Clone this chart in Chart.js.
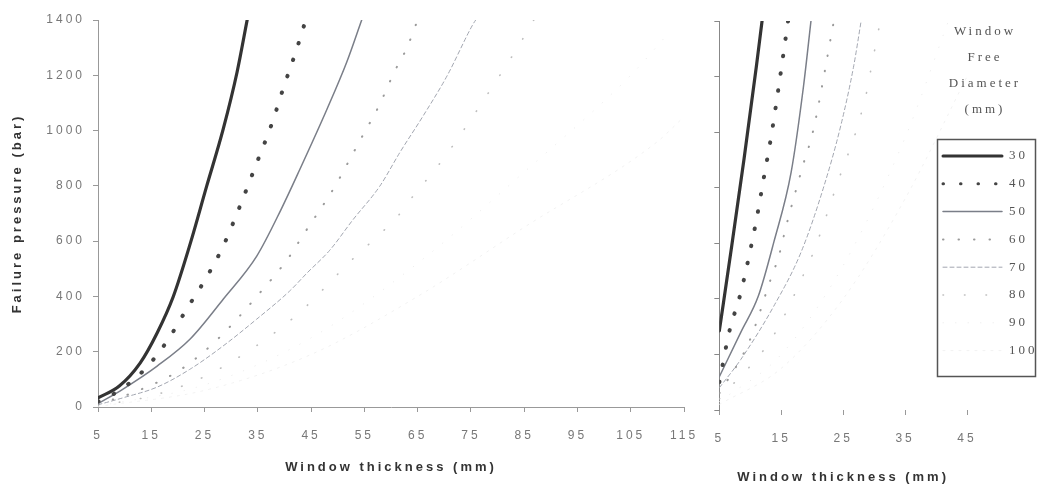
<!DOCTYPE html>
<html lang="en">
<head>
  <meta charset="UTF-8">
  <title>Failure pressure vs window thickness</title>
  <script src="https://cdn.jsdelivr.net/npm/chart.js@4.4.1/dist/chart.umd.min.js"></script>
  <style>
    body { margin: 0; background: #fff; }
    #wrap { position: relative; width: 1038px; height: 493px; }
    canvas { position: absolute; top: 0; }
  </style>
</head>
<body>
<div id="wrap">
  <canvas id="leftChart" width="720" height="493" style="left:0"></canvas>
  <canvas id="rightChart" width="338" height="493" style="left:700px"></canvas>
</div>
<script>
// window free diameters (mm), one curve each
var diameters = ['30', '40', '50', '60', '70', '80', '90', '100'];
var legendTitle = ['Window', 'Free', 'Diameter', '(mm)'];

// left panel: [thickness mm, failure pressure bar]
var left30 = [[5,33],[9,76],[12.9,159],[16.1,268],[19.1,398],[22.3,590],[25.4,799],[28.5,1005],[31.1,1211],[33,1400]];
var left40 = [[5,20],[8.6,55],[13.3,127],[17.6,228],[21.9,362],[25.4,470],[28.5,582],[31.5,720],[35,893],[37.6,1023],[39.9,1160],[42.3,1295],[44,1400]];
var left50 = [[5,12],[9.7,65],[16.1,148],[22.3,246],[28.5,390],[34.8,546],[39.4,716],[42.9,860],[48,1078],[51.7,1248],[54.5,1400]];
var left60 = [[5,10],[12,55],[20.4,134],[27.5,246],[34.8,400],[41,546],[43,607],[49.5,799],[52.1,890],[54.2,965],[57.7,1088],[60.7,1215],[63,1300],[65,1400]];
var left70 = [[5,8],[10,35],[16.1,72],[22.3,137],[28.5,221],[34.8,318],[41,420],[44.2,484],[48.5,567],[52.8,676],[57.9,799],[61.7,922],[66,1052],[70.5,1197],[75.4,1385],[75.9,1400]];
var left80 = [[5,5],[15,40],[25,110],[35,225],[42.9,343],[52,520],[62.2,711],[64.1,762],[68.4,862],[72.4,967],[80.1,1190],[83.8,1302],[86.8,1400]];
var left90 = [[5,3],[25,80],[45,250],[65,520],[85,850],[105,1200],[112,1350]];
var left100 = [[5,2],[25,60],[45,190],[65,400],[85,650],[110,960],[115,1050]];

// right panel (zoom on thin windows)
var right30 = [[5,285],[7,590],[9,905],[11,1240],[11.9,1400]];
var right40 = [[5,100],[6.6,281],[8.4,417],[9.8,554],[11.1,698],[12.2,838],[13.3,975],[14.5,1150],[15.4,1290],[16.1,1400]];
var right50 = [[5,120],[8.5,281],[11.3,410],[13.8,604],[16.6,856],[18.6,1166],[19.8,1400]];
var right60 = [[5,60],[9.8,245],[13.3,471],[14.6,554],[15.8,662],[18.5,880],[20.1,1000],[23.5,1400]];
var right70 = [[5,80],[8.5,183],[13.8,374],[18.2,568],[21.9,806],[24.6,1022],[26.7,1238],[27.9,1400]];
var right80 = [[5,40],[13.7,266],[19,507],[20.2,568],[24.3,831],[27.3,1018],[28.1,1083],[28.9,1155],[29.4,1216],[31,1400]];
var right90 = [[5,30],[15,200],[25,520],[35,980],[42,1400]];
var right100 = [[5,20],[15,150],[25,400],[35,760],[45,1200]];

var leftTicks = [5, 15, 25, 35, 45, 55, 65, 75, 85, 95, 105, 115];
var rightTicks = [5, 15, 25, 35, 45];
var pressureTicks = [0, 200, 400, 600, 800, 1000, 1200, 1400];

// line looks (the big diameters are barely visible in the scan)
var lineColors = ['#333', '#444', '#7a7e88', '#9a9a9a', '#a2a6b0', '#bdbdbd', '#eeeeee', '#f2f2f2'];
var lineWidths = [3.2, 4, 1.5, 2, 1, 1.6, 1, 1];
var lineDashes = [[], [0.5, 17], [], [0.5, 15], [4, 3], [0.5, 21], [0.5, 12], [2, 6]];

function makeDatasets(series) {
  return series.map(function (pts, i) {
    return {
      label: diameters[i],
      data: pts.map(function (p) { return {x: p[0], y: p[1]}; }),
      borderColor: lineColors[i],
      borderWidth: lineWidths[i],
      borderDash: lineDashes[i],
      borderCapStyle: 'round',
      pointRadius: 0,
      cubicInterpolationMode: 'monotone',
      fill: false
    };
  });
}

// wide letter spacing like the scanned figure
var spacing = {
  id: 'spacing',
  beforeDraw: function (c) { c.ctx.letterSpacing = '3px'; },
  afterDraw: function (c) { c.ctx.letterSpacing = '0px'; }
};

// boxed legend with the title above it
var legendBox = {
  id: 'legendBox',
  afterDraw: function (c) {
    var ctx = c.ctx;
    ctx.save();
    ctx.fillStyle = '#fff';
    ctx.fillRect(237, 139, 99, 238);
    ctx.strokeStyle = '#555';
    ctx.lineWidth = 1.5;
    ctx.strokeRect(237.5, 139.5, 98, 237);
    ctx.letterSpacing = '3px';
    ctx.font = '13px "Liberation Serif"';
    ctx.fillStyle = '#555';
    ctx.textAlign = 'center';
    ctx.textBaseline = 'middle';
    legendTitle.forEach(function (t, i) { ctx.fillText(t, 285, 32 + i * 26); });
    ctx.textAlign = 'left';
    c.data.datasets.forEach(function (ds, i) {
      var y = 156 + i * 27.8;
      ctx.save();
      ctx.strokeStyle = ds.borderColor;
      ctx.lineWidth = Math.min(ds.borderWidth, 3);
      ctx.lineCap = 'round';
      ctx.setLineDash(ds.borderDash);
      ctx.beginPath();
      ctx.moveTo(243, y);
      ctx.lineTo(302, y);
      ctx.stroke();
      ctx.restore();
      ctx.fillStyle = '#555';
      ctx.fillText(ds.label, 309, y);
    });
    ctx.restore();
  }
};

var tickFont = {family: '"Liberation Sans", Arial, sans-serif', size: 12};
var titleFont = {family: '"Liberation Sans", Arial, sans-serif', size: 13, weight: 'bold'};

function xScale(min, max, ticks, height, titlePad, showBorder) {
  return {
    type: 'linear', min: min, max: max,
    afterFit: function (s) { s.height = height; },
    afterBuildTicks: function (s) { s.ticks = ticks.map(function (v) { return {value: v}; }); },
    ticks: {autoSkip: false, maxRotation: 0, padding: 16, color: '#777', font: tickFont,
            callback: function (v) { return String(v); }},
    grid: {drawOnChartArea: false, drawTicks: true, tickLength: 5, color: '#999'},
    border: {display: showBorder, color: '#999', width: 1},
    title: {display: true, text: 'Window thickness (mm)', color: '#333', font: titleFont,
            padding: {top: 0, bottom: titlePad}}
  };
}

var leftChart = new Chart(document.getElementById('leftChart'), {
  type: 'line',
  data: {datasets: makeDatasets([left30, left40, left50, left60, left70, left80, left90, left100])},
  options: {
    responsive: false, animation: false,
    layout: {padding: {left: 0, top: 20, right: 36, bottom: 0}},
    plugins: {legend: {display: false}, tooltip: {enabled: false}},
    scales: {
      x: xScale(5, 115, leftTicks, 86, 18, true),
      y: {
        min: 0, max: 1400,
        afterFit: function (s) { s.width = 98; },
        afterBuildTicks: function (s) { s.ticks = pressureTicks.map(function (v) { return {value: v}; }); },
        ticks: {padding: 8, color: '#777', font: tickFont, callback: function (v) { return String(v); }},
        grid: {drawOnChartArea: false, drawTicks: true, tickLength: 5, color: '#999'},
        border: {display: true, color: '#999', width: 1},
        title: {display: true, text: 'Failure pressure (bar)', color: '#333', font: titleFont,
                padding: {top: 10, bottom: 0}}
      }
    }
  },
  plugins: [spacing]
});

var rightChart = new Chart(document.getElementById('rightChart'), {
  type: 'line',
  data: {datasets: makeDatasets([right30, right40, right50, right60, right70, right80, right90, right100])},
  options: {
    responsive: false, animation: false,
    layout: {padding: {left: 0, top: 21, right: 71, bottom: 0}},
    plugins: {legend: {display: false}, tooltip: {enabled: false}},
    scales: {
      x: xScale(5, 45, rightTicks, 83, 8, false),
      y: {
        min: 0, max: 1400,
        afterFit: function (s) { s.width = 18; },
        afterBuildTicks: function (s) { s.ticks = pressureTicks.map(function (v) { return {value: v}; }); },
        ticks: {display: false},
        grid: {drawOnChartArea: false, drawTicks: true, tickLength: 5, color: '#888'},
        border: {display: true, color: '#888', width: 1}
      }
    }
  },
  plugins: [spacing, legendBox]
});
</script>
</body>
</html>
